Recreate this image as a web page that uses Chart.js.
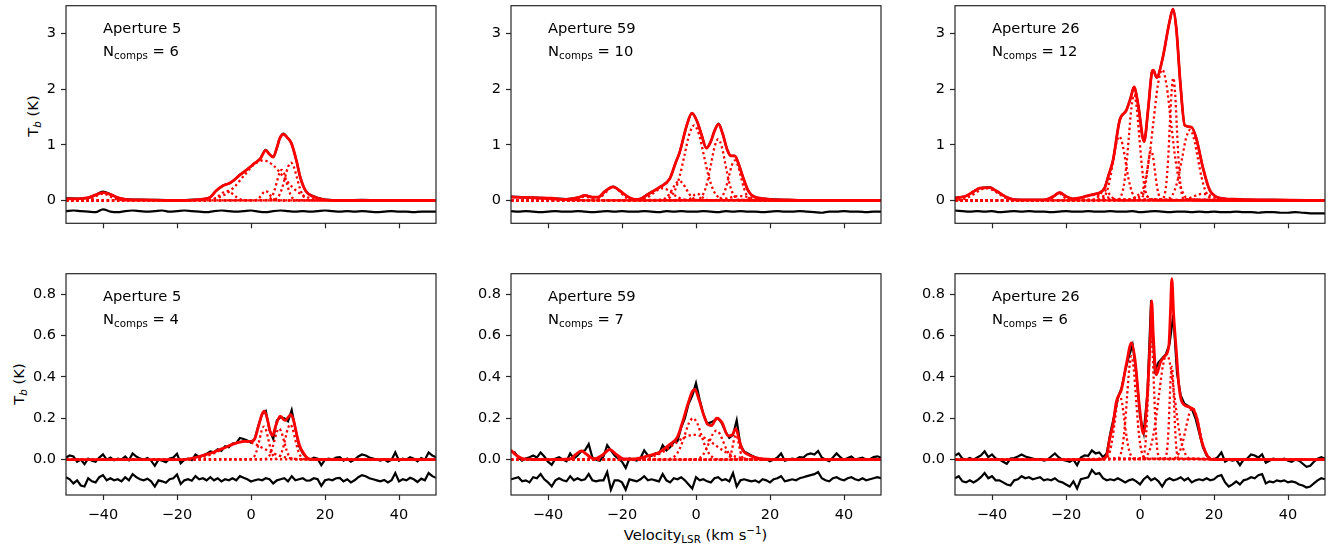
<!DOCTYPE html>
<html>
<head>
<meta charset="utf-8">
<script src="https://cdn.jsdelivr.net/npm/chart.js@4.4.0/dist/chart.umd.min.js"></script>
<style>
  html, body { margin: 0; padding: 0; background: #fff; }
  body { width: 1338px; height: 553px; position: relative; overflow: hidden; font-family: "DejaVu Sans", sans-serif; color: #000; }
  canvas { position: absolute; }
  .note { position: absolute; font-size: 14.7px; line-height: 15px; white-space: nowrap; }
  .sub { font-size: 10.3px; position: relative; top: 3px; }
  .subi { font-size: 10.3px; position: relative; top: 3px; font-style: italic; }
  .sup { font-size: 10.3px; position: relative; top: -6px; }
  .ylab { position: absolute; font-size: 14.7px; line-height: 16px; white-space: nowrap; transform: translate(-50%, -50%) rotate(-90deg); }
  .xlab { position: absolute; font-size: 14.7px; line-height: 15px; white-space: nowrap; transform: translateX(-50%); }
</style>
</head>
<body>
<div class="ylab" style="left:33px; top:115.5px">T<span class="subi">b</span> (K)</div>
<div class="ylab" style="left:19px; top:383.5px">T<span class="subi">b</span> (K)</div>
<div class="xlab" style="left:695.5px; top:527px">Velocity<span class="sub">LSR</span> (km s<span class="sup">&minus;1</span>)</div>
<script>
// Rejillas de velocidad (km/s)
const velGrid = [-50,-49,-48,-47,-46,-45,-44,-43,-42,-41,-40,-39,-38,-37,-36,-35,-34,-33,-32,-31,
  -30,-29,-28,-27,-26,-25,-24,-23,-22,-21,-20,-19,-18,-17,-16,-15,-14,-13,-12,-11,
  -10,-9,-8,-7,-6,-5,-4,-3,-2,-1,0,1,2,3,4,5,6,7,8,9,10,11,12,13,14,15,16,17,18,19,
  20,21,22,23,24,25,26,27,28,29,30,31,32,33,34,35,36,37,38,39,40,41,42,43,44,45,46,47,48,49,50];
const velGridCoarse = [-50,-48,-46,-44,-42,-40,-38,-36,-34,-32,-30,-28,-26,-24,-22,-20,-18,-16,-14,-12,
  -10,-8,-6,-4,-2,0,2,4,6,8,10,12,14,16,18,20,22,24,26,28,30,32,34,36,38,40,42,44,46,48,50];

const xTicks = [-40, -20, 0, 20, 40];
const yTicksTop = [0, 1, 2, 3];
const yTicksBottom = [0, 0.2, 0.4, 0.6, 0.8];

const apertures = ['5', '59', '26'];
const nCompsTop = [6, 10, 12];
const nCompsBottom = [4, 7, 6];

// ---- Fila superior: Aperture 5 ----
const tlSpec = [[-50,0.04],[-47,0.035],[-44,0.05],[-42,0.10],[-40,0.16],[-38,0.11],[-36,0.05],[-34,0.025],[-30,0.015],[-25,0.01],[-20,0.0],[-15,0.015],[-12.5,0.03],[-11,0.06],[-9.5,0.17],[-7.5,0.27],[-5.8,0.31],[-4.5,0.37],[-3,0.46],[-1,0.56],[1,0.67],[2.5,0.75],[4,0.91],[5,0.83],[6,0.78],[7,0.95],[7.8,1.12],[8.8,1.2],[9.8,1.13],[10.9,1.03],[12.3,0.71],[13.3,0.42],[14.8,0.17],[16.8,0.08],[20,0.015],[25,0.005],[30,0.01],[35,0.0],[40,0.005],[45,0.0],[50,0.0]];
const tlModel = [[-50,0.03],[-47,0.03],[-44,0.05],[-42,0.10],[-40,0.14],[-38,0.11],[-36,0.05],[-34,0.02],[-30,0.01],[-20,0.0],[-15,0.01],[-12.5,0.03],[-11,0.06],[-9.5,0.17],[-7.5,0.27],[-5.8,0.31],[-4.5,0.37],[-3,0.46],[-1,0.56],[1,0.67],[2.5,0.75],[4,0.90],[5,0.83],[6,0.78],[7,0.95],[7.8,1.12],[8.8,1.19],[9.8,1.13],[10.9,1.03],[12.3,0.71],[13.3,0.42],[14.8,0.17],[16.8,0.07],[20,0.01],[25,0.0],[50,0.0]];
const tlResid = [-0.19,-0.18,-0.19,-0.20,-0.21,-0.16,-0.20,-0.21,-0.19,-0.18,
  -0.19,-0.20,-0.19,-0.18,-0.20,-0.19,-0.18,-0.19,-0.20,-0.21,
  -0.19,-0.18,-0.19,-0.20,-0.19,-0.18,-0.20,-0.21,-0.19,-0.18,
  -0.19,-0.20,-0.19,-0.20,-0.19,-0.18,-0.19,-0.20,-0.19,-0.20,
  -0.19,-0.20,-0.21,-0.20,-0.19,-0.20,-0.20,-0.21,-0.20,-0.20,-0.20];
const tlComps = [
  [[-46,0.001],[-45,0.005],[-44,0.016],[-43,0.039],[-42,0.073],[-41,0.106],[-40,0.12],[-39,0.106],[-38,0.073],[-37,0.039],[-36,0.016],[-35,0.005],[-34,0.001]],
  [[-11.9,0.002],[-11,0.007],[-10.1,0.023],[-9.2,0.055],[-8.3,0.103],[-7.4,0.15],[-6.5,0.17],[-5.6,0.15],[-4.7,0.103],[-3.8,0.055],[-2.9,0.023],[-2,0.007],[-1.1,0.002]],
  [[-12.6,0.008],[-9.95,0.032],[-7.3,0.097],[-4.65,0.234],[-2,0.437],[0.65,0.635],[3.3,0.72],[5.95,0.635],[8.6,0.437],[11.25,0.234],[13.9,0.097],[16.55,0.032],[19.2,0.008]],
  [[0.7,0.002],[1.25,0.007],[1.8,0.023],[2.35,0.055],[2.9,0.103],[3.45,0.15],[4,0.17],[4.55,0.15],[5.1,0.103],[5.65,0.055],[6.2,0.023],[6.75,0.007],[7.3,0.002]],
  [[4.4,0.006],[5.05,0.024],[5.7,0.074],[6.35,0.179],[7,0.334],[7.65,0.485],[8.3,0.55],[8.95,0.485],[9.6,0.334],[10.25,0.179],[10.9,0.074],[11.55,0.024],[12.2,0.006]],
  [[6,0.008],[6.8,0.03],[7.6,0.092],[8.4,0.221],[9.2,0.412],[10,0.6],[10.8,0.68],[11.6,0.6],[12.4,0.412],[13.2,0.221],[14,0.092],[14.8,0.03],[15.6,0.008]]
];

// ---- Fila superior: Aperture 59 ----
const tmSpec = [[-50,0.07],[-47,0.06],[-44,0.05],[-39,0.04],[-35,0.025],[-32,0.05],[-30,0.09],[-28,0.06],[-26.5,0.06],[-24.5,0.17],[-22.4,0.25],[-20.5,0.17],[-18.5,0.07],[-16.5,0.02],[-15,0.03],[-13.4,0.1],[-11.5,0.17],[-9.8,0.24],[-7.1,0.39],[-5.5,0.68],[-4.4,0.87],[-2.5,1.35],[-1.1,1.57],[0.3,1.42],[1.5,1.18],[2.8,0.94],[4,1.06],[5,1.25],[6.1,1.38],[7.2,1.2],[8.5,0.9],[9.5,0.8],[10.5,0.8],[11.5,0.66],[12.7,0.42],[14,0.19],[15,0.1],[16.5,0.05],[20,0.025],[25,0.01],[30,0.0],[35,-0.005],[40,0.005],[45,0.0],[50,0.0]];
const tmModel = [[-50,0.06],[-44,0.05],[-39,0.04],[-35,0.02],[-32,0.05],[-30,0.09],[-28,0.06],[-26.5,0.06],[-24.5,0.17],[-22.4,0.245],[-20.5,0.17],[-18.5,0.07],[-16.5,0.02],[-15,0.03],[-13.4,0.09],[-11.5,0.17],[-9.8,0.24],[-7.1,0.39],[-5.5,0.68],[-4.4,0.87],[-2.5,1.35],[-1.1,1.57],[0.3,1.42],[1.5,1.18],[2.8,0.94],[4,1.06],[5,1.25],[6.1,1.37],[7.2,1.2],[8.5,0.9],[9.5,0.80],[10.5,0.80],[11.5,0.66],[12.7,0.42],[14,0.19],[15,0.10],[16.5,0.05],[20,0.02],[25,0.01],[30,0.0],[50,0.0]];
const tmResid = [-0.19,-0.20,-0.19,-0.20,-0.21,-0.20,-0.19,-0.20,-0.20,-0.19,
  -0.20,-0.21,-0.20,-0.19,-0.20,-0.19,-0.20,-0.20,-0.19,-0.20,
  -0.21,-0.19,-0.20,-0.19,-0.20,-0.20,-0.19,-0.20,-0.21,-0.19,
  -0.20,-0.19,-0.20,-0.20,-0.21,-0.20,-0.19,-0.20,-0.20,-0.19,
  -0.20,-0.21,-0.22,-0.20,-0.20,-0.19,-0.20,-0.20,-0.21,-0.20,-0.20];
const tmComps = [
  [[-52,0.065],[-47.5,0.057],[-43,0.039],[-38.5,0.021],[-34,0.009],[-29.5,0.003],[-25,0.001]],
  [[-34.5,0.001],[-33.75,0.003],[-33,0.01],[-32.25,0.023],[-31.5,0.043],[-30.75,0.062],[-30,0.07],[-29.25,0.062],[-28.5,0.043],[-27.75,0.023],[-27,0.01],[-26.25,0.003],[-25.5,0.001]],
  [[-28.4,0.003],[-27.4,0.011],[-26.4,0.032],[-25.4,0.078],[-24.4,0.146],[-23.4,0.212],[-22.4,0.24],[-21.4,0.212],[-20.4,0.146],[-19.4,0.078],[-18.4,0.032],[-17.4,0.011],[-16.4,0.003]],
  [[-16.5,0.002],[-15.25,0.01],[-14,0.03],[-12.75,0.071],[-11.5,0.133],[-10.25,0.194],[-9,0.22],[-7.75,0.194],[-6.5,0.133],[-5.25,0.071],[-4,0.03],[-2.75,0.01],[-1.5,0.002]],
  [[-8.3,0.015],[-7,0.059],[-5.7,0.183],[-4.4,0.438],[-3.1,0.819],[-1.8,1.191],[-0.5,1.35],[0.8,1.191],[2.1,0.819],[3.4,0.438],[4.7,0.183],[6,0.059],[7.3,0.015]],
  [[-9.9,0.004],[-9,0.015],[-8.1,0.047],[-7.2,0.114],[-6.3,0.212],[-5.4,0.309],[-4.5,0.35],[-3.6,0.309],[-2.7,0.212],[-1.8,0.114],[-0.9,0.047],[0,0.015],[0.9,0.004]],
  [[0.3,0.012],[1.25,0.048],[2.2,0.149],[3.15,0.357],[4.1,0.667],[5.05,0.971],[6,1.1],[6.95,0.971],[7.9,0.667],[8.85,0.357],[9.8,0.149],[10.75,0.048],[11.7,0.012]],
  [[5.7,0.008],[6.5,0.032],[7.3,0.097],[8.1,0.234],[8.9,0.437],[9.7,0.635],[10.5,0.72],[11.3,0.635],[12.1,0.437],[12.9,0.234],[13.7,0.097],[14.5,0.032],[15.3,0.008]],
  [[-3.3,0.001],[-2.7,0.005],[-2.1,0.016],[-1.5,0.039],[-0.9,0.073],[-0.3,0.106],[0.3,0.12],[0.9,0.106],[1.5,0.073],[2.1,0.039],[2.7,0.016],[3.3,0.005],[3.9,0.001]],
  [[3,0.001],[4.5,0.004],[6,0.011],[7.5,0.026],[9,0.049],[10.5,0.071],[12,0.08],[13.5,0.071],[15,0.049],[16.5,0.026],[18,0.011],[19.5,0.004],[21,0.001]]
];

// ---- Fila superior: Aperture 26 ----
const trSpec = [[-50,0.05],[-47,0.08],[-45,0.16],[-43.3,0.22],[-40.6,0.235],[-38.8,0.17],[-36.1,0.06],[-33.4,0.015],[-30,0.01],[-26,0.01],[-23.5,0.07],[-21.7,0.14],[-19.9,0.07],[-18.1,0.03],[-16,0.05],[-14.5,0.08],[-12,0.12],[-10.9,0.14],[-9.6,0.22],[-8.5,0.45],[-7.3,0.72],[-5.5,1.44],[-3.7,1.62],[-2.5,1.85],[-1.6,2.04],[-0.5,1.72],[1.1,1.06],[2.2,1.64],[3.2,2.3],[3.6,2.34],[4.5,2.21],[6,2.52],[8,3.22],[8.9,3.44],[9.8,3.1],[10.9,2.11],[12.1,1.35],[13.9,1.32],[15.2,1.12],[17,0.59],[18.8,0.19],[20.5,0.07],[22,0.04],[27,0.02],[36,0.01],[45,0.005],[50,0.0]];
const trModel = [[-50,0.04],[-47,0.08],[-45,0.16],[-43.3,0.22],[-40.6,0.23],[-38.8,0.17],[-36.1,0.06],[-33.4,0.01],[-26,0.01],[-23.5,0.07],[-21.7,0.14],[-19.9,0.07],[-18.1,0.03],[-16,0.05],[-14.5,0.08],[-12,0.12],[-10.9,0.14],[-9.6,0.22],[-8.5,0.45],[-7.3,0.72],[-5.5,1.44],[-3.7,1.62],[-2.5,1.85],[-1.6,2.04],[-0.5,1.72],[1.1,1.06],[2.2,1.64],[3.2,2.30],[3.6,2.34],[4.5,2.21],[6,2.52],[8,3.22],[8.9,3.44],[9.8,3.10],[10.9,2.11],[12.1,1.35],[13.9,1.32],[15.2,1.12],[17,0.59],[18.8,0.19],[20.5,0.07],[22,0.04],[27,0.02],[36,0.01],[50,0.0]];
const trResid = [-0.18,-0.19,-0.20,-0.19,-0.20,-0.19,-0.21,-0.20,-0.19,-0.20,
  -0.19,-0.20,-0.20,-0.21,-0.20,-0.19,-0.20,-0.20,-0.19,-0.20,
  -0.20,-0.19,-0.20,-0.20,-0.19,-0.21,-0.20,-0.19,-0.20,-0.21,
  -0.20,-0.20,-0.21,-0.20,-0.21,-0.20,-0.21,-0.21,-0.20,-0.21,
  -0.21,-0.22,-0.21,-0.21,-0.22,-0.22,-0.21,-0.22,-0.23,-0.23,-0.23];
const trComps = [
  [[-50.5,0.002],[-49,0.01],[-47.5,0.03],[-46,0.071],[-44.5,0.133],[-43,0.194],[-41.5,0.22],[-40,0.194],[-38.5,0.133],[-37,0.071],[-35.5,0.03],[-34,0.01],[-32.5,0.002]],
  [[-25.6,0.001],[-25,0.006],[-24.4,0.018],[-23.8,0.042],[-23.2,0.079],[-22.6,0.115],[-22,0.13],[-21.4,0.115],[-20.8,0.079],[-20.2,0.042],[-19.6,0.018],[-19,0.006],[-18.4,0.001]],
  [[-21,0.001],[-19.5,0.004],[-18,0.014],[-16.5,0.032],[-15,0.061],[-13.5,0.088],[-12,0.1],[-10.5,0.088],[-9,0.061],[-7.5,0.032],[-6,0.014],[-4.5,0.004],[-3,0.001]],
  [[-10.7,0.013],[-9.85,0.05],[-9,0.156],[-8.15,0.373],[-7.3,0.698],[-6.45,1.015],[-5.6,1.15],[-4.75,1.015],[-3.9,0.698],[-3.05,0.373],[-2.2,0.156],[-1.35,0.05],[-0.5,0.013]],
  [[-5.8,0.021],[-5.1,0.083],[-4.4,0.257],[-3.7,0.617],[-3,1.152],[-2.3,1.677],[-1.6,1.9],[-0.9,1.677],[-0.2,1.152],[0.5,0.617],[1.2,0.257],[1.9,0.083],[2.6,0.021]],
  [[0,0.01],[0.5,0.04],[1,0.122],[1.5,0.292],[2,0.546],[2.5,0.794],[3,0.9],[3.5,0.794],[4,0.546],[4.5,0.292],[5,0.122],[5.5,0.04],[6,0.01]],
  [[-1.05,0.026],[0.125,0.103],[1.3,0.318],[2.475,0.763],[3.65,1.425],[4.825,2.074],[6,2.35],[7.175,2.074],[8.35,1.425],[9.525,0.763],[10.7,0.318],[11.875,0.103],[13.05,0.026]],
  [[6.15,0.024],[6.625,0.097],[7.1,0.298],[7.575,0.714],[8.05,1.334],[8.525,1.942],[9,2.2],[9.475,1.942],[9.95,1.334],[10.425,0.714],[10.9,0.298],[11.375,0.097],[11.85,0.024]],
  [[7.2,0.014],[8.25,0.056],[9.3,0.172],[10.35,0.412],[11.4,0.77],[12.45,1.121],[13.5,1.27],[14.55,1.121],[15.6,0.77],[16.65,0.412],[17.7,0.172],[18.75,0.056],[19.8,0.014]],
  [[-13.4,0.002],[-12.75,0.008],[-12.1,0.024],[-11.45,0.058],[-10.8,0.109],[-10.15,0.159],[-9.5,0.18],[-8.85,0.159],[-8.2,0.109],[-7.55,0.058],[-6.9,0.024],[-6.25,0.008],[-5.6,0.002]],
  [[-4,0.001],[-3.25,0.005],[-2.5,0.016],[-1.75,0.039],[-1,0.073],[-0.25,0.106],[0.5,0.12],[1.25,0.106],[2,0.073],[2.75,0.039],[3.5,0.016],[4.25,0.005],[5,0.001]],
  [[9.5,0.001],[10.75,0.005],[12,0.016],[13.25,0.039],[14.5,0.073],[15.75,0.106],[17,0.12],[18.25,0.106],[19.5,0.073],[20.75,0.039],[22,0.016],[23.25,0.005],[24.5,0.001]]
];

// ---- Fila inferior: Aperture 5 ----
const blSpec = [0.01,0.02,0.015,-0.01,0.0,-0.022,0.005,-0.005,-0.01,0.01,
  0.025,0.0,0.01,-0.003,0.005,0.0,0.015,-0.003,0.03,0.015,
  0.005,0.0,0.008,-0.005,-0.03,0.0,-0.005,-0.012,0.005,0.01,
  0.028,-0.018,0.0,0.005,-0.002,0.025,0.012,0.02,0.028,0.04,
  0.035,0.05,0.042,0.065,0.06,0.078,0.08,0.105,0.1,0.092,
  0.082,
  0.1,0.165,0.22,0.235,0.145,0.1,0.19,0.205,0.2,0.185,
  0.24,0.15,0.065,0.03,0.01,0.0,0.01,0.005,-0.027,0.0,
  0.005,0.0,0.01,0.012,-0.005,0.005,-0.01,0.0,0.015,0.025,
  0.02,0.01,0.005,0.0,-0.005,0.002,-0.01,0.0,0.035,-0.005,
  0.005,0.0,0.012,0.005,-0.008,0.008,0.0,0.035,0.02,0.012];
const blModel = [[-50,0.0],[-20,0.0],[-17,0.003],[-14,0.015],[-12,0.025],[-10,0.037],[-7.5,0.055],[-5,0.074],[-3,0.085],[-1.5,0.088],[0,0.088],[1,0.10],[2,0.16],[3,0.22],[3.6,0.234],[4.5,0.19],[5.1,0.14],[5.8,0.117],[6.8,0.17],[7.9,0.21],[9.2,0.19],[10.8,0.218],[11.5,0.19],[12.5,0.11],[13.3,0.06],[14,0.037],[15,0.012],[16,0.002],[18,0.0],[50,0.0]];
const blResid = [-0.085,-0.095,-0.115,-0.1,-0.125,-0.13,-0.09,-0.105,-0.11,-0.085,
  -0.075,-0.1,-0.09,-0.1,-0.095,-0.105,-0.085,-0.1,-0.07,-0.085,
  -0.095,-0.1,-0.092,-0.105,-0.13,-0.1,-0.105,-0.112,-0.095,-0.09,
  -0.072,-0.118,-0.1,-0.095,-0.102,-0.08,-0.095,-0.09,-0.1,-0.085,
  -0.1,-0.09,-0.105,-0.095,-0.1,-0.09,-0.1,-0.08,-0.088,-0.095,
  -0.106,
  -0.1,-0.095,-0.1,-0.09,-0.095,-0.115,-0.1,-0.095,-0.09,-0.105,
  -0.08,-0.1,-0.095,-0.09,-0.102,-0.1,-0.09,-0.095,-0.127,-0.1,
  -0.095,-0.1,-0.09,-0.088,-0.105,-0.095,-0.11,-0.1,-0.085,-0.075,
  -0.08,-0.09,-0.095,-0.1,-0.105,-0.098,-0.11,-0.1,-0.065,-0.105,
  -0.095,-0.1,-0.088,-0.095,-0.108,-0.092,-0.1,-0.065,-0.08,-0.088];
const blComps = [
  [[-18.5,0.001],[-15.75,0.004],[-13,0.012],[-10.25,0.029],[-7.5,0.053],[-4.75,0.078],[-2,0.088],[0.75,0.078],[3.5,0.053],[6.25,0.029],[9,0.012],[11.75,0.004],[14.5,0.001]],
  [[-0.1,0.002],[0.5,0.007],[1.1,0.022],[1.7,0.052],[2.3,0.097],[2.9,0.141],[3.5,0.16],[4.1,0.141],[4.7,0.097],[5.3,0.052],[5.9,0.022],[6.5,0.007],[7.1,0.002]],
  [[3.7,0.002],[4.35,0.007],[5,0.02],[5.65,0.049],[6.3,0.091],[6.95,0.132],[7.6,0.15],[8.25,0.132],[8.9,0.091],[9.55,0.049],[10.2,0.02],[10.85,0.007],[11.5,0.002]],
  [[6.7,0.002],[7.35,0.007],[8,0.023],[8.65,0.055],[9.3,0.103],[9.95,0.15],[10.6,0.17],[11.25,0.15],[11.9,0.103],[12.55,0.055],[13.2,0.023],[13.85,0.007],[14.5,0.002]]
];

// ---- Fila inferior: Aperture 59 ----
const bmSpec = [0.04,0.035,0.01,-0.005,0.005,0.012,0.02,0.01,0.035,0.015,
  -0.01,-0.025,0.005,0.012,0.0,-0.008,0.03,0.005,0.02,0.04,
  0.045,0.075,0.01,0.0,-0.005,0.015,0.07,0.045,0.02,0.005,
  -0.01,-0.04,0.005,0.0,-0.005,0.008,0.045,0.02,0.018,0.03,
  0.028,0.07,0.045,0.06,0.085,0.09,0.155,0.2,0.27,0.31,
  0.37,
  0.29,0.22,0.175,0.18,0.19,0.2,0.175,0.135,0.105,0.12,
  0.19,0.07,0.04,0.03,0.02,0.012,0.005,0.0,0.003,-0.008,
  0.0,0.01,0.03,-0.005,0.0,0.005,0.002,0.012,0.01,0.025,
  0.03,0.025,0.042,0.01,0.0,-0.008,0.01,0.03,0.012,-0.002,
  0.008,0.015,0.0,0.005,0.01,0.0,0.002,0.012,0.016,0.01];
const bmModel = [[-50,0.045],[-48.5,0.02],[-46.5,0.003],[-40,0.0],[-34,0.003],[-32.5,0.025],[-31,0.042],[-29.5,0.025],[-27.5,0.003],[-25.5,0.02],[-23.3,0.048],[-21.5,0.025],[-19.5,0.003],[-16,0.005],[-13,0.018],[-10,0.035],[-7,0.075],[-5,0.11],[-3.5,0.19],[-2,0.28],[-1,0.33],[-0.3,0.34],[0.8,0.29],[2,0.22],[3.2,0.17],[4.2,0.165],[5.6,0.2],[7,0.18],[8.7,0.115],[9.8,0.12],[10.8,0.15],[11.6,0.1],[12.5,0.05],[14,0.025],[16,0.01],[19,0.002],[22,0.0],[50,0.0]];
const bmResid = [-0.095,-0.09,-0.085,-0.105,-0.1,-0.11,-0.085,-0.09,-0.07,-0.095,
  -0.11,-0.13,-0.1,-0.09,-0.1,-0.105,-0.08,-0.1,-0.09,-0.1,
  -0.095,-0.07,-0.1,-0.105,-0.1,-0.1,-0.06,-0.145,-0.1,-0.1,
  -0.11,-0.145,-0.095,-0.1,-0.105,-0.095,-0.08,-0.1,-0.095,-0.1,
  -0.105,-0.07,-0.1,-0.11,-0.09,-0.095,-0.085,-0.1,-0.12,-0.14,
  -0.085,
  -0.1,-0.095,-0.105,-0.11,-0.09,-0.085,-0.1,-0.095,-0.105,-0.065,
  -0.13,-0.1,-0.095,-0.1,-0.105,-0.1,-0.11,-0.095,-0.1,-0.11,
  -0.095,-0.09,-0.08,-0.105,-0.1,-0.095,-0.1,-0.09,-0.085,-0.08,
  -0.075,-0.07,-0.06,-0.09,-0.1,-0.105,-0.09,-0.085,-0.095,-0.1,
  -0.09,-0.085,-0.095,-0.1,-0.09,-0.1,-0.095,-0.09,-0.085,-0.09];
const bmComps = [
  [[-50.5,0.05],[-49.75,0.044],[-49,0.03],[-48.25,0.016],[-47.5,0.007],[-46.75,0.002],[-46,0.001]],
  [[-34.9,0.0005],[-34.25,0.002],[-33.6,0.006],[-32.95,0.014],[-32.3,0.026],[-31.65,0.037],[-31,0.042],[-30.35,0.037],[-29.7,0.026],[-29.05,0.014],[-28.4,0.006],[-27.75,0.002],[-27.1,0.0005]],
  [[-27.5,0.0005],[-26.8,0.002],[-26.1,0.0065],[-25.4,0.016],[-24.7,0.029],[-24,0.042],[-23.3,0.048],[-22.6,0.042],[-21.9,0.029],[-21.2,0.016],[-20.5,0.0065],[-19.8,0.002],[-19.1,0.0005]],
  [[-7.4,0.002],[-6.3,0.009],[-5.2,0.027],[-4.1,0.065],[-3,0.121],[-1.9,0.177],[-0.8,0.2],[0.3,0.177],[1.4,0.121],[2.5,0.065],[3.6,0.027],[4.7,0.009],[5.8,0.002]],
  [[-17,0.001],[-14.25,0.005],[-11.5,0.016],[-8.75,0.039],[-6,0.073],[-3.25,0.106],[-0.5,0.12],[2.25,0.106],[5,0.073],[7.75,0.039],[10.5,0.016],[13.25,0.005],[16,0.001]],
  [[8.4,0.001],[8.8,0.005],[9.2,0.016],[9.6,0.039],[10,0.073],[10.4,0.106],[10.8,0.12],[11.2,0.106],[11.6,0.073],[12,0.039],[12.4,0.016],[12.8,0.005],[13.2,0.001]],
  [[-0.2,0.002],[0.75,0.006],[1.7,0.019],[2.65,0.046],[3.6,0.085],[4.55,0.124],[5.5,0.14],[6.45,0.124],[7.4,0.085],[8.35,0.046],[9.3,0.019],[10.25,0.006],[11.2,0.002]]
];

// ---- Fila inferior: Aperture 26 ----
const brSpec = [0.02,0.03,0.005,0.0,0.008,0.0,0.01,0.02,0.04,0.012,
  0.025,0.005,0.0,-0.01,-0.02,0.005,0.008,0.015,0.025,0.015,
  0.01,0.005,0.0,0.002,-0.005,0.0,0.015,0.03,0.012,0.0,
  -0.005,-0.01,0.0,-0.027,0.01,0.02,0.018,0.045,0.03,0.035,
  0.012,0.03,0.13,0.21,0.3,0.345,0.43,0.5,0.555,0.42,
  0.21,
  0.13,0.32,0.77,0.43,0.47,0.49,0.51,0.56,0.7,0.42,
  0.31,0.27,0.26,0.245,0.2,0.13,0.06,0.02,0.003,0.0,
  0.012,0.035,-0.01,0.0,-0.005,0.0,-0.027,0.0,0.005,0.025,
  0.02,0.01,0.026,-0.015,-0.005,0.005,0.002,0.0,0.005,-0.005,
  -0.01,0.0,-0.005,-0.02,-0.035,-0.03,-0.01,0.005,0.012,0.005];
const brModel = [[-50,0.0],[-12,0.0],[-10,0.004],[-9,0.02],[-8.2,0.1],[-7.3,0.17],[-6.4,0.28],[-5,0.34],[-3.7,0.46],[-2.3,0.565],[-1.4,0.49],[-0.1,0.25],[0.9,0.125],[1.9,0.285],[2.8,0.6],[3.15,0.768],[3.6,0.6],[4.4,0.41],[5.5,0.47],[6.7,0.5],[7.8,0.55],[8.2,0.7],[8.6,0.875],[9.1,0.7],[9.8,0.53],[10.5,0.36],[11.3,0.28],[13.2,0.255],[14.5,0.24],[15.5,0.19],[16.5,0.1],[17.5,0.045],[18.8,0.005],[20,0.0],[50,0.0]];
const brResid = [-0.09,-0.08,-0.105,-0.11,-0.1,-0.11,-0.1,-0.085,-0.065,-0.09,
  -0.08,-0.1,-0.1,-0.11,-0.12,-0.125,-0.1,-0.095,-0.08,-0.09,
  -0.085,-0.095,-0.09,-0.085,-0.1,-0.095,-0.1,-0.09,-0.105,-0.11,
  -0.12,-0.13,-0.105,-0.14,-0.095,-0.09,-0.085,-0.05,-0.07,-0.065,
  -0.09,-0.1,-0.095,-0.1,-0.09,-0.1,-0.11,-0.1,-0.095,-0.105,
  -0.12,
  -0.095,-0.08,-0.1,-0.09,-0.105,-0.13,-0.1,-0.09,-0.1,-0.095,
  -0.085,-0.1,-0.09,-0.11,-0.1,-0.095,-0.1,-0.09,-0.1,-0.095,
  -0.08,-0.075,-0.11,-0.13,-0.12,-0.105,-0.12,-0.1,-0.095,-0.085,
  -0.09,-0.075,-0.07,-0.115,-0.105,-0.11,-0.1,-0.105,-0.1,-0.11,
  -0.105,-0.11,-0.12,-0.125,-0.135,-0.13,-0.115,-0.1,-0.09,-0.095];
const brComps = [
  [[-9.4,0.003],[-8.75,0.014],[-8.1,0.042],[-7.45,0.101],[-6.8,0.188],[-6.15,0.274],[-5.5,0.31],[-4.85,0.274],[-4.2,0.188],[-3.55,0.101],[-2.9,0.042],[-2.25,0.014],[-1.6,0.003]],
  [[-5.9,0.006],[-5.3,0.022],[-4.7,0.068],[-4.1,0.162],[-3.5,0.303],[-2.9,0.441],[-2.3,0.5],[-1.7,0.441],[-1.1,0.303],[-0.5,0.162],[0.1,0.068],[0.7,0.022],[1.3,0.006]],
  [[0.75,0.007],[1.125,0.026],[1.5,0.081],[1.875,0.195],[2.25,0.364],[2.625,0.53],[3,0.6],[3.375,0.53],[3.75,0.364],[4.125,0.195],[4.5,0.081],[4.875,0.026],[5.25,0.007]],
  [[0.9,0.006],[1.95,0.022],[3,0.069],[4.05,0.166],[5.1,0.309],[6.15,0.45],[7.2,0.51],[8.25,0.45],[9.3,0.309],[10.35,0.166],[11.4,0.069],[12.45,0.022],[13.5,0.006]],
  [[6.8,0.005],[7.1,0.02],[7.4,0.061],[7.7,0.146],[8,0.273],[8.3,0.397],[8.6,0.45],[8.9,0.397],[9.2,0.273],[9.5,0.146],[9.8,0.061],[10.1,0.02],[10.4,0.005]],
  [[8.8,0.003],[9.7,0.011],[10.6,0.034],[11.5,0.081],[12.4,0.152],[13.3,0.221],[14.2,0.25],[15.1,0.221],[16,0.152],[16.9,0.081],[17.8,0.034],[18.7,0.011],[19.6,0.003]]
];

// Geometria de los paneles (px)
const colLeft = [66, 511, 955];
const rowTop = [4, 272];
const plotW = 370, plotH = 223;
const ML = 60, MR = 14, MT = 12;
const MB = [10, 36];
const yRange = [[-0.41, 3.5], [-0.171, 0.899]];
const frameColor = '#262626';

const pairs = a => a.map(p => ({ x: p[0], y: p[1] }));
const onGrid = (grid, vals) => grid.map((v, i) => ({ x: v, y: vals[i] }));
// cada componente tambien se dibuja sobre la linea base, de -50 a 50
const withBase = c => {
  const pts = pairs(c);
  if (pts[0].x > -50) pts.unshift({ x: -50, y: 0 });
  pts.push({ x: 50, y: 0 });
  return pts;
};

const panels = [
  { col: 0, row: 0, spec: pairs(tlSpec), model: tlModel, comps: tlComps, resid: onGrid(velGridCoarse, tlResid), n: nCompsTop[0] },
  { col: 1, row: 0, spec: pairs(tmSpec), model: tmModel, comps: tmComps, resid: onGrid(velGridCoarse, tmResid), n: nCompsTop[1] },
  { col: 2, row: 0, spec: pairs(trSpec), model: trModel, comps: trComps, resid: onGrid(velGridCoarse, trResid), n: nCompsTop[2] },
  { col: 0, row: 1, spec: onGrid(velGrid, blSpec), model: blModel, comps: blComps, resid: onGrid(velGrid, blResid), n: nCompsBottom[0] },
  { col: 1, row: 1, spec: onGrid(velGrid, bmSpec), model: bmModel, comps: bmComps, resid: onGrid(velGrid, bmResid), n: nCompsBottom[1] },
  { col: 2, row: 1, spec: onGrid(velGrid, brSpec), model: brModel, comps: brComps, resid: onGrid(velGrid, brResid), n: nCompsBottom[2] }
];

// marco completo alrededor del area de trazado
const framePlugin = {
  id: 'frame',
  afterDraw(chart) {
    const { ctx, chartArea: a } = chart;
    ctx.save();
    ctx.strokeStyle = frameColor;
    ctx.lineWidth = 1.2;
    ctx.strokeRect(a.left, a.top, a.right - a.left, a.bottom - a.top);
    ctx.restore();
  }
};

Chart.defaults.font.family = '"DejaVu Sans", sans-serif';

panels.forEach(p => {
  const W = plotW + ML + MR, H = plotH + MT + MB[p.row];
  const cv = document.createElement('canvas');
  cv.width = W; cv.height = H;
  cv.style.left = (colLeft[p.col] - ML) + 'px';
  cv.style.top = (rowTop[p.row] - MT) + 'px';
  cv.style.width = W + 'px'; cv.style.height = H + 'px';
  document.body.appendChild(cv);

  const noisy = p.row === 1;
  const datasets = [
    { data: pairs(p.model), borderColor: '#ff0000', borderWidth: 2.8, order: 0, cubicInterpolationMode: 'monotone' },
    ...p.comps.map(c => ({ data: withBase(c), borderColor: '#ff0000', borderWidth: 2.3, borderDash: [2.3, 2.8], order: 1, cubicInterpolationMode: 'monotone' })),
    noisy ? { data: p.spec, borderColor: '#000', borderWidth: 2.2, order: 2, tension: 0 }
          : { data: p.spec, borderColor: '#000', borderWidth: 2.2, order: 2, cubicInterpolationMode: 'monotone' },
    noisy ? { data: p.resid, borderColor: '#000', borderWidth: 2.2, order: 3, tension: 0 }
          : { data: p.resid, borderColor: '#000', borderWidth: 2.2, order: 3, cubicInterpolationMode: 'monotone' }
  ];
  datasets.forEach(d => { d.pointRadius = 0; d.fill = false; d.clip = 0; });

  const yTicks = p.row === 0 ? yTicksTop : yTicksBottom;

  new Chart(cv.getContext('2d'), {
    type: 'line',
    data: { datasets },
    options: {
      responsive: false,
      animation: false,
      devicePixelRatio: 1,
      layout: { padding: { top: MT, right: MR, left: 0, bottom: 0 } },
      plugins: { legend: { display: false }, tooltip: { enabled: false } },
      scales: {
        x: {
          type: 'linear', min: -50, max: 50,
          afterBuildTicks: s => { s.ticks = xTicks.map(v => ({ value: v })); },
          afterFit: s => { s.height = MB[p.row]; },
          grid: { drawOnChartArea: false, drawTicks: true, tickLength: 5, tickWidth: 1.2, tickColor: frameColor },
          border: { display: false },
          ticks: {
            display: noisy, color: '#000', padding: 7, maxRotation: 0,
            font: { size: 14.5 },
            callback: v => v < 0 ? '\u2212' + (-v) : String(v)
          }
        },
        y: {
          type: 'linear', min: yRange[p.row][0], max: yRange[p.row][1],
          afterBuildTicks: s => { s.ticks = yTicks.map(v => ({ value: v })); },
          afterFit: s => { s.width = ML; },
          grid: { drawOnChartArea: false, drawTicks: true, tickLength: 5, tickWidth: 1.2, tickColor: frameColor },
          border: { display: false },
          ticks: {
            color: '#000', padding: 5,
            font: { size: 14.5 },
            callback: v => p.row === 0 ? String(v) : v.toFixed(1)
          }
        }
      }
    },
    plugins: [framePlugin]
  });

  // anotaciones de cada panel
  const top0 = rowTop[p.row];
  const a1 = document.createElement('div');
  a1.className = 'note';
  a1.style.left = (colLeft[p.col] + 37) + 'px';
  a1.style.top = (top0 + 16.3) + 'px';
  a1.textContent = 'Aperture ' + apertures[p.col];
  document.body.appendChild(a1);
  const a2 = document.createElement('div');
  a2.className = 'note';
  a2.style.left = (colLeft[p.col] + 37) + 'px';
  a2.style.top = (top0 + 38.5) + 'px';
  a2.innerHTML = 'N<span class="sub">comps</span> = ' + p.n;
  document.body.appendChild(a2);
});
</script>
</body>
</html>
